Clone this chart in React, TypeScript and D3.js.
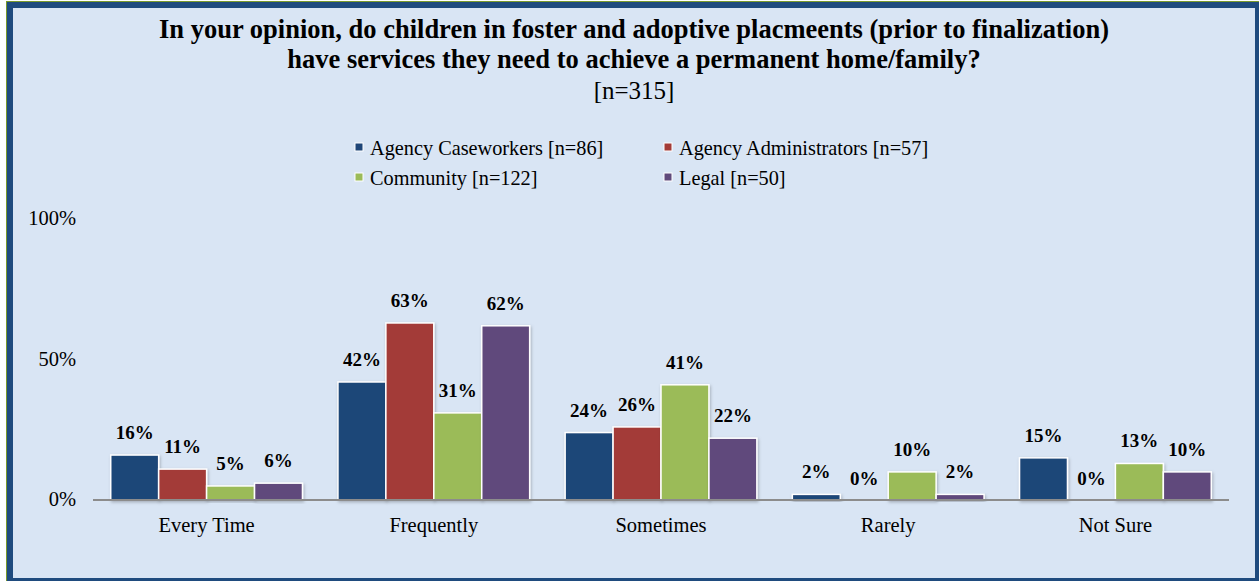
import * as d3 from 'd3'
import React from 'react'

// chart data
const categories = ['Every Time', 'Frequently', 'Sometimes', 'Rarely', 'Not Sure']
const seriesNames = [
  'Agency Caseworkers [n=86]',
  'Agency Administrators [n=57]',
  'Community [n=122]',
  'Legal [n=50]',
]
const caseworkers = [16, 42, 24, 2, 15]
const administrators = [11, 63, 26, 0, 0]
const community = [5, 31, 41, 10, 13]
const legal = [6, 62, 22, 2, 10]
const yTicks = [0, 50, 100]

const colors = ['#1f4678', '#a33b37', '#9bbb59', '#604a7b']
const titleLines = [
  'In your opinion, do children in foster and adoptive placmeents (prior to finalization)',
  'have services they need to achieve a permanent home/family?',
]
const subtitle = '[n=315]'

const W = 1259
const H = 581
const font = '"Liberation Serif", "Times New Roman", serif'

export default function App() {
  const series = [caseworkers, administrators, community, legal]

  // plot area
  const margin = { left: 93, right: 30, top: 219, bottom: 81 }
  const x0 = d3.scaleBand<string>()
    .domain(categories)
    .range([margin.left, W - margin.right])
  const x1 = d3.scaleBand<number>()
    .domain(d3.range(series.length))
    .range([0, x0.bandwidth()])
    .paddingOuter(0.37)
  const y = d3.scaleLinear()
    .domain([0, 100])
    .range([H - margin.bottom, margin.top])

  const legendPos = [
    { x: 355, y: 155 },
    { x: 664, y: 155 },
    { x: 355, y: 185 },
    { x: 664, y: 185 },
  ]

  return (
    <svg width={W} height={H} style={{ position: 'absolute', left: 0, top: 0 }}
      fontFamily={font}>
      <defs>
        <filter id="shadow" x="-20%" y="-20%" width="140%" height="140%">
          <feDropShadow dx="1" dy="1.5" stdDeviation="1.5" floodColor="#000" floodOpacity="0.25" />
        </filter>
      </defs>
      <rect x={0} y={0} width={W} height={H} fill="#fff" />
      <rect x={6} y={1} width={W} height={H} fill="#7a9a2c" />
      <rect x={7} y={2} width={W} height={H} fill="#1f4b7e" />
      <rect x={13} y={8} width={1242} height={570} fill="#d9e5f4" />

      {/* title */}
      <text x={634} y={38} textAnchor="middle" fontSize={26.5} fontWeight="bold" fill="#000">
        {titleLines[0]}
      </text>
      <text x={634} y={68} textAnchor="middle" fontSize={26.5} fontWeight="bold" fill="#000">
        {titleLines[1]}
      </text>
      <text x={634} y={99} textAnchor="middle" fontSize={25} fill="#000">{subtitle}</text>

      {/* legend */}
      {seriesNames.map((s, i) => (
        <g key={s}>
          <rect x={legendPos[i].x} y={legendPos[i].y - 12} width={8} height={8}
            fill={colors[i]} stroke="#fff" strokeWidth={1} />
          <text x={legendPos[i].x + 15} y={legendPos[i].y} fontSize={20.3} fill="#000">{s}</text>
        </g>
      ))}

      {/* grid */}
      {yTicks.map(t => (
        <g key={t}>
          {t > 0 && (
            <line x1={margin.left} x2={W - margin.right} y1={y(t)} y2={y(t)}
              stroke="#8c8c8c" strokeWidth={2} filter="url(#shadow)" />
          )}
          <text x={76} y={y(t) + 6} textAnchor="end" fontSize={20.5} fill="#000">{t + '%'}</text>
        </g>
      ))}
      <line x1={margin.left} x2={margin.left} y1={y(100)} y2={y(0)}
        stroke="#8c8c8c" strokeWidth={2} filter="url(#shadow)" />

      {/* bars */}
      {categories.map((c, ci) => (
        <g key={c} transform={`translate(${x0(c)},0)`}>
          {series.map((vals, si) => (
            <rect key={si} x={x1(si)} y={y(vals[ci])} width={x1.bandwidth()}
              height={y(0) - y(vals[ci])} fill={colors[si]}
              stroke="#fff" strokeWidth={1.5} filter="url(#shadow)" />
          ))}
        </g>
      ))}
      <line x1={margin.left} x2={W - margin.right} y1={y(0)} y2={y(0)}
        stroke="#8c8c8c" strokeWidth={2} />

      {/* value labels */}
      {categories.map((c, ci) => (
        <g key={c} transform={`translate(${x0(c)},0)`}>
          {series.map((vals, si) => (
            <text key={si} x={(x1(si) as number) + x1.bandwidth() / 2}
              y={vals[ci] === 0 ? y(0) - 15 : y(vals[ci]) - 16}
              textAnchor="middle" fontSize={19} fontWeight="bold" fill="#000">
              {vals[ci] + '%'}
            </text>
          ))}
        </g>
      ))}

      {/* category labels */}
      {categories.map(c => (
        <text key={c} x={(x0(c) as number) + x0.bandwidth() / 2} y={532}
          textAnchor="middle" fontSize={20.5} fill="#000">{c}</text>
      ))}
    </svg>
  )
}
